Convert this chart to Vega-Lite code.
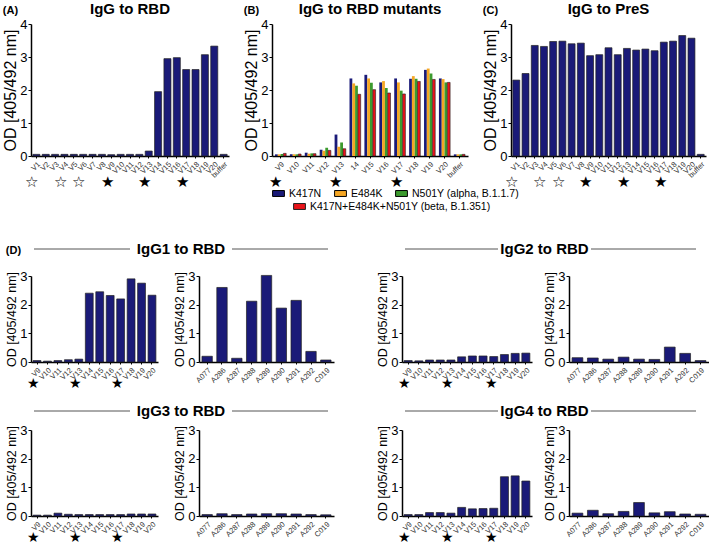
{
  "$schema": "https://vega.github.io/schema/vega-lite/v6.json",
  "padding": {"left": 2, "top": 2, "right": 2, "bottom": 0},
  "background": "white",
  "config": {
    "font": "Liberation Sans",
    "view": {"stroke": null},
    "axis": {"grid": false, "domainColor": "#000", "tickColor": "#000", "labelColor": "#000", "titleColor": "#000", "titleFontWeight": "normal", "labelFont": "Liberation Sans", "titleFont": "Liberation Sans"},
    "axisY": {"labelFontSize": 13, "titleFontSize": 12.5, "tickSize": 3, "domainWidth": 1.5, "titlePadding": 1, "labelPadding": 1},
    "axisX": {"labelAngle": -45, "labelFontSize": 7.5, "tickSize": 2, "labelColor": "#333", "domainWidth": 1.5, "labelPadding": 2},
    "title": {"fontSize": 15, "fontWeight": "bold", "color": "#000", "font": "Liberation Sans", "offset": 1},
    "legend": {"labelFontSize": 10.5, "labelColor": "#000", "labelLimit": 300, "symbolType": "M-1,-0.5H1V0.5H-1Z", "symbolSize": 140, "symbolStrokeColor": "#000", "symbolStrokeWidth": 1, "symbolOpacity": 1, "direction": "horizontal", "columnPadding": 10, "rowPadding": 6, "labelOffset": 4}
  },
  "datasets": {
    "A": [
      {"s": "V1", "v": 0.05, "star": "☆"}, {"s": "V2", "v": 0.05, "star": ""}, {"s": "V3", "v": 0.05, "star": ""},
      {"s": "V4", "v": 0.05, "star": "☆"}, {"s": "V5", "v": 0.05, "star": ""}, {"s": "V6", "v": 0.05, "star": "☆"},
      {"s": "V7", "v": 0.05, "star": ""}, {"s": "V8", "v": 0.05, "star": ""}, {"s": "V9", "v": 0.04, "star": "★"},
      {"s": "V10", "v": 0.05, "star": ""}, {"s": "V11", "v": 0.05, "star": ""}, {"s": "V12", "v": 0.05, "star": ""},
      {"s": "V13", "v": 0.15, "star": "★"}, {"s": "V14", "v": 1.95, "star": ""}, {"s": "V15", "v": 2.95, "star": ""},
      {"s": "V16", "v": 2.98, "star": ""}, {"s": "V17", "v": 2.62, "star": "★"}, {"s": "V18", "v": 2.62, "star": ""},
      {"s": "V19", "v": 3.07, "star": ""}, {"s": "V20", "v": 3.33, "star": ""}, {"s": "buffer", "v": 0.05, "star": ""}
    ],
    "C": [
      {"s": "V1", "v": 2.3, "star": "☆"}, {"s": "V2", "v": 2.5, "star": ""}, {"s": "V3", "v": 3.35, "star": ""},
      {"s": "V4", "v": 3.32, "star": "☆"}, {"s": "V5", "v": 3.47, "star": ""}, {"s": "V6", "v": 3.48, "star": "☆"},
      {"s": "V7", "v": 3.4, "star": ""}, {"s": "V8", "v": 3.42, "star": ""}, {"s": "V9", "v": 3.04, "star": "★"},
      {"s": "V10", "v": 3.07, "star": ""}, {"s": "V11", "v": 3.28, "star": ""}, {"s": "V12", "v": 3.07, "star": ""},
      {"s": "V13", "v": 3.26, "star": "★"}, {"s": "V14", "v": 3.21, "star": ""}, {"s": "V15", "v": 3.24, "star": ""},
      {"s": "V16", "v": 3.19, "star": ""}, {"s": "V17", "v": 3.45, "star": "★"}, {"s": "V18", "v": 3.48, "star": ""},
      {"s": "V19", "v": 3.65, "star": ""}, {"s": "V20", "v": 3.57, "star": ""}, {"s": "buffer", "v": 0.05, "star": ""}
    ],
    "B": [
      {"s": "V9", "m": "K417N", "v": 0.05}, {"s": "V9", "m": "E484K", "v": 0.05}, {"s": "V9", "m": "N501Y (alpha, B.1.1.7)", "v": 0.06}, {"s": "V9", "m": "K417N+E484K+N501Y (beta, B.1.351)", "v": 0.08},
      {"s": "V10", "m": "K417N", "v": 0.05}, {"s": "V10", "m": "E484K", "v": 0.05}, {"s": "V10", "m": "N501Y (alpha, B.1.1.7)", "v": 0.05}, {"s": "V10", "m": "K417N+E484K+N501Y (beta, B.1.351)", "v": 0.06},
      {"s": "V11", "m": "K417N", "v": 0.1}, {"s": "V11", "m": "E484K", "v": 0.07}, {"s": "V11", "m": "N501Y (alpha, B.1.1.7)", "v": 0.08}, {"s": "V11", "m": "K417N+E484K+N501Y (beta, B.1.351)", "v": 0.07},
      {"s": "V12", "m": "K417N", "v": 0.19}, {"s": "V12", "m": "E484K", "v": 0.16}, {"s": "V12", "m": "N501Y (alpha, B.1.1.7)", "v": 0.25}, {"s": "V12", "m": "K417N+E484K+N501Y (beta, B.1.351)", "v": 0.17},
      {"s": "V13", "m": "K417N", "v": 0.65}, {"s": "V13", "m": "E484K", "v": 0.28}, {"s": "V13", "m": "N501Y (alpha, B.1.1.7)", "v": 0.41}, {"s": "V13", "m": "K417N+E484K+N501Y (beta, B.1.351)", "v": 0.22},
      {"s": "14", "m": "K417N", "v": 2.35}, {"s": "14", "m": "E484K", "v": 2.2}, {"s": "14", "m": "N501Y (alpha, B.1.1.7)", "v": 2.13}, {"s": "14", "m": "K417N+E484K+N501Y (beta, B.1.351)", "v": 1.87},
      {"s": "V15", "m": "K417N", "v": 2.46}, {"s": "V15", "m": "E484K", "v": 2.35}, {"s": "V15", "m": "N501Y (alpha, B.1.1.7)", "v": 2.22}, {"s": "V15", "m": "K417N+E484K+N501Y (beta, B.1.351)", "v": 2.01},
      {"s": "V16", "m": "K417N", "v": 2.23}, {"s": "V16", "m": "E484K", "v": 2.27}, {"s": "V16", "m": "N501Y (alpha, B.1.1.7)", "v": 2.06}, {"s": "V16", "m": "K417N+E484K+N501Y (beta, B.1.351)", "v": 1.91},
      {"s": "V17", "m": "K417N", "v": 2.35}, {"s": "V17", "m": "E484K", "v": 2.23}, {"s": "V17", "m": "N501Y (alpha, B.1.1.7)", "v": 1.98}, {"s": "V17", "m": "K417N+E484K+N501Y (beta, B.1.351)", "v": 1.88},
      {"s": "V18", "m": "K417N", "v": 2.34}, {"s": "V18", "m": "E484K", "v": 2.42}, {"s": "V18", "m": "N501Y (alpha, B.1.1.7)", "v": 2.34}, {"s": "V18", "m": "K417N+E484K+N501Y (beta, B.1.351)", "v": 2.26},
      {"s": "V19", "m": "K417N", "v": 2.61}, {"s": "V19", "m": "E484K", "v": 2.65}, {"s": "V19", "m": "N501Y (alpha, B.1.1.7)", "v": 2.5}, {"s": "V19", "m": "K417N+E484K+N501Y (beta, B.1.351)", "v": 2.32},
      {"s": "V20", "m": "K417N", "v": 2.35}, {"s": "V20", "m": "E484K", "v": 2.33}, {"s": "V20", "m": "N501Y (alpha, B.1.1.7)", "v": 2.23}, {"s": "V20", "m": "K417N+E484K+N501Y (beta, B.1.351)", "v": 2.23},
      {"s": "buffer", "m": "K417N", "v": 0.05}, {"s": "buffer", "m": "E484K", "v": 0.05}, {"s": "buffer", "m": "N501Y (alpha, B.1.1.7)", "v": 0.05}, {"s": "buffer", "m": "K417N+E484K+N501Y (beta, B.1.351)", "v": 0.05}
    ],
    "Bstars": [
      {"s": "V9", "star": "★"}, {"s": "V10", "star": ""}, {"s": "V11", "star": ""}, {"s": "V12", "star": ""},
      {"s": "V13", "star": "★"}, {"s": "14", "star": ""}, {"s": "V15", "star": ""}, {"s": "V16", "star": ""},
      {"s": "V17", "star": "★"}, {"s": "V18", "star": ""}, {"s": "V19", "star": ""}, {"s": "V20", "star": ""}, {"s": "buffer", "star": ""}
    ],
    "g1L": [
      {"s": "V9", "v": 0.05, "star": "★"}, {"s": "V10", "v": 0.03, "star": ""}, {"s": "V11", "v": 0.05, "star": ""}, {"s": "V12", "v": 0.08, "star": ""},
      {"s": "V13", "v": 0.1, "star": "★"}, {"s": "V14", "v": 2.4, "star": ""}, {"s": "V15", "v": 2.45, "star": ""}, {"s": "V16", "v": 2.32, "star": ""},
      {"s": "V17", "v": 2.2, "star": "★"}, {"s": "V18", "v": 2.9, "star": ""}, {"s": "V19", "v": 2.75, "star": ""}, {"s": "V20", "v": 2.33, "star": ""}
    ],
    "g1R": [
      {"s": "A077", "v": 0.2}, {"s": "A286", "v": 2.6}, {"s": "A287", "v": 0.13}, {"s": "A288", "v": 2.12}, {"s": "A289", "v": 3.02},
      {"s": "A290", "v": 1.88}, {"s": "A291", "v": 2.15}, {"s": "A292", "v": 0.37}, {"s": "C019", "v": 0.07}
    ],
    "g2L": [
      {"s": "V9", "v": 0.05, "star": "★"}, {"s": "V10", "v": 0.04, "star": ""}, {"s": "V11", "v": 0.07, "star": ""}, {"s": "V12", "v": 0.07, "star": ""},
      {"s": "V13", "v": 0.07, "star": "★"}, {"s": "V14", "v": 0.18, "star": ""}, {"s": "V15", "v": 0.21, "star": ""}, {"s": "V16", "v": 0.21, "star": ""},
      {"s": "V17", "v": 0.19, "star": "★"}, {"s": "V18", "v": 0.26, "star": ""}, {"s": "V19", "v": 0.3, "star": ""}, {"s": "V20", "v": 0.31, "star": ""}
    ],
    "g2R": [
      {"s": "A077", "v": 0.15}, {"s": "A286", "v": 0.14}, {"s": "A287", "v": 0.1}, {"s": "A288", "v": 0.17}, {"s": "A289", "v": 0.1},
      {"s": "A290", "v": 0.09}, {"s": "A291", "v": 0.52}, {"s": "A292", "v": 0.3}, {"s": "C019", "v": 0.05}
    ],
    "g3L": [
      {"s": "V9", "v": 0.03, "star": "★"}, {"s": "V10", "v": 0.03, "star": ""}, {"s": "V11", "v": 0.1, "star": ""}, {"s": "V12", "v": 0.06, "star": ""},
      {"s": "V13", "v": 0.05, "star": "★"}, {"s": "V14", "v": 0.05, "star": ""}, {"s": "V15", "v": 0.05, "star": ""}, {"s": "V16", "v": 0.05, "star": ""},
      {"s": "V17", "v": 0.05, "star": "★"}, {"s": "V18", "v": 0.07, "star": ""}, {"s": "V19", "v": 0.07, "star": ""}, {"s": "V20", "v": 0.07, "star": ""}
    ],
    "g3R": [
      {"s": "A077", "v": 0.05}, {"s": "A286", "v": 0.08}, {"s": "A287", "v": 0.05}, {"s": "A288", "v": 0.07}, {"s": "A289", "v": 0.08},
      {"s": "A290", "v": 0.08}, {"s": "A291", "v": 0.07}, {"s": "A292", "v": 0.05}, {"s": "C019", "v": 0.04}
    ],
    "g4L": [
      {"s": "V9", "v": 0.05, "star": "★"}, {"s": "V10", "v": 0.05, "star": ""}, {"s": "V11", "v": 0.12, "star": ""}, {"s": "V12", "v": 0.12, "star": ""},
      {"s": "V13", "v": 0.1, "star": "★"}, {"s": "V14", "v": 0.3, "star": ""}, {"s": "V15", "v": 0.25, "star": ""}, {"s": "V16", "v": 0.26, "star": ""},
      {"s": "V17", "v": 0.27, "star": "★"}, {"s": "V18", "v": 1.37, "star": ""}, {"s": "V19", "v": 1.4, "star": ""}, {"s": "V20", "v": 1.22, "star": ""}
    ],
    "g4R": [
      {"s": "A077", "v": 0.1}, {"s": "A286", "v": 0.2}, {"s": "A287", "v": 0.08}, {"s": "A288", "v": 0.16}, {"s": "A289", "v": 0.47},
      {"s": "A290", "v": 0.11}, {"s": "A291", "v": 0.15}, {"s": "A292", "v": 0.07}, {"s": "C019", "v": 0.06}
    ],
    "hdrL": [{"a": 0.01, "b": 0.33}, {"a": 0.67, "b": 0.99}],
    "hdrR": [{"a": 0.01, "b": 0.32}, {"a": 0.63, "b": 0.98}]
  },
  "spacing": 52,
  "vconcat": [
    {
      "spacing": 14,
      "hconcat": [
        {
          "title": {"text": "(A)", "anchor": "start", "fontSize": 11, "offset": -14},
          "spacing": -8,
          "vconcat": [
            {"width": 198, "height": 132, "title": {"text": "IgG to RBD", "fontSize": 15},
             "data": {"name": "A"},
             "mark": {"type": "bar", "color": "#1a1a78", "stroke": "#222", "strokeWidth": 0.7},
             "encoding": {
               "x": {"field": "s", "type": "nominal", "sort": null, "title": null, "scale": {"paddingInner": 0.25, "paddingOuter": 0.2}},
               "y": {"field": "v", "type": "quantitative", "title": "OD [405/492 nm]", "scale": {"domain": [0, 4]}, "axis": {"values": [0, 1, 2, 3, 4], "titleFontSize": 16}}
             }},
            {"width": 198, "height": 6, "data": {"name": "A"},
             "mark": {"type": "text", "fontSize": 15, "dx": -4, "dy": 0, "color": "#000"},
             "encoding": {"x": {"field": "s", "type": "nominal", "sort": null, "axis": null, "scale": {"paddingInner": 0.25, "paddingOuter": 0.2}}, "text": {"field": "star"}}}
          ]
        },
        {
          "title": {"text": "(B)", "anchor": "start", "fontSize": 11, "offset": -14},
          "spacing": -8,
          "vconcat": [
            {"width": 196, "height": 132, "title": {"text": "IgG to RBD mutants", "fontSize": 15},
             "data": {"name": "B"},
             "mark": {"type": "bar", "strokeWidth": 0.6},
             "encoding": {
               "x": {"field": "s", "type": "nominal", "sort": null, "title": null, "scale": {"paddingInner": 0.25, "paddingOuter": 0.2}},
               "xOffset": {"field": "m", "type": "nominal", "sort": null},
               "y": {"field": "v", "type": "quantitative", "title": "OD [405/492 nm]", "scale": {"domain": [0, 4]}, "axis": {"values": [0, 1, 2, 3, 4], "titleFontSize": 16}},
               "color": {"field": "m", "type": "nominal", "title": null,
                 "scale": {"domain": ["K417N", "E484K", "N501Y (alpha, B.1.1.7)", "K417N+E484K+N501Y (beta, B.1.351)"], "range": ["#1a1a78", "#f5a623", "#3c9a2e", "#e8141a"]},
                 "legend": {"orient": "none", "legendX": 241, "legendY": 163, "values": ["K417N", "E484K", "N501Y (alpha, B.1.1.7)"], "columns": 3}},
               "stroke": {"field": "m", "type": "nominal", "title": null,
                 "scale": {"domain": ["K417N+E484K+N501Y (beta, B.1.351)"], "range": ["#222"]},
                 "legend": {"orient": "none", "legendX": 262, "legendY": 176, "symbolFillColor": "#e8141a", "symbolStrokeColor": "#000"}}
             }},
            {"width": 196, "height": 6, "data": {"name": "Bstars"},
             "mark": {"type": "text", "fontSize": 15, "dx": -4, "dy": 0, "color": "#000"},
             "encoding": {"x": {"field": "s", "type": "nominal", "sort": null, "axis": null, "scale": {"paddingInner": 0.25, "paddingOuter": 0.2}}, "text": {"field": "star"}}}
          ]
        },
        {
          "title": {"text": "(C)", "anchor": "start", "fontSize": 11, "offset": -14},
          "spacing": -8,
          "vconcat": [
            {"width": 195, "height": 132, "title": {"text": "IgG to PreS", "fontSize": 15},
             "data": {"name": "C"},
             "mark": {"type": "bar", "color": "#1a1a78", "stroke": "#222", "strokeWidth": 0.7},
             "encoding": {
               "x": {"field": "s", "type": "nominal", "sort": null, "title": null, "scale": {"paddingInner": 0.25, "paddingOuter": 0.2}},
               "y": {"field": "v", "type": "quantitative", "title": "OD [405/492 nm]", "scale": {"domain": [0, 4]}, "axis": {"values": [0, 1, 2, 3, 4], "titleFontSize": 16}}
             }},
            {"width": 195, "height": 6, "data": {"name": "C"},
             "mark": {"type": "text", "fontSize": 15, "dx": -4, "dy": 0, "color": "#000"},
             "encoding": {"x": {"field": "s", "type": "nominal", "sort": null, "axis": null, "scale": {"paddingInner": 0.25, "paddingOuter": 0.2}}, "text": {"field": "star"}}}
          ]
        }
      ]
    },
    {
      "title": {"text": "(D)", "anchor": "start", "fontSize": 11, "offset": -14},
      "spacing": 13,
      "vconcat": [
        {
          "spacing": 42,
          "hconcat": [
            {"spacing": 13, "vconcat": [
              {"width": 300, "height": 12, "layer": [
                {"data": {"name": "hdrL"}, "mark": {"type": "rule", "color": "#555", "strokeWidth": 1},
                 "encoding": {"x": {"field": "a", "type": "quantitative", "scale": {"domain": [0, 1]}, "axis": null}, "x2": {"field": "b"}, "y": {"datum": 0.5, "type": "quantitative", "scale": {"domain": [0, 1]}, "axis": null}}},
                {"data": {"values": [{"t": "IgG1 to RBD"}]}, "mark": {"type": "text", "fontSize": 15, "fontWeight": "bold"},
                 "encoding": {"x": {"datum": 0.5, "type": "quantitative"}, "y": {"datum": 0.5, "type": "quantitative"}, "text": {"field": "t"}}}
              ]},
              {"spacing": 15, "hconcat": [
                {"spacing": -4, "vconcat": [
                  {"width": 127, "height": 86, "data": {"name": "g1L"},
                   "mark": {"type": "bar", "color": "#1a1a78", "stroke": "#222", "strokeWidth": 0.7},
                   "encoding": {"x": {"field": "s", "type": "nominal", "sort": null, "title": null, "scale": {"paddingInner": 0.25, "paddingOuter": 0.2}},
                     "y": {"field": "v", "type": "quantitative", "title": "OD [405/492 nm]", "scale": {"domain": [0, 3]}, "axis": {"values": [0, 1, 2, 3]}}}},
                  {"width": 127, "height": 6, "data": {"name": "g1L"}, "mark": {"type": "text", "fontSize": 14, "dx": -3, "dy": -1, "color": "#000"},
                   "encoding": {"x": {"field": "s", "type": "nominal", "sort": null, "axis": null, "scale": {"paddingInner": 0.25, "paddingOuter": 0.2}}, "text": {"field": "star"}}}
                ]},
                {"width": 135, "height": 86, "data": {"name": "g1R"},
                 "mark": {"type": "bar", "color": "#1a1a78", "stroke": "#222", "strokeWidth": 0.7},
                 "encoding": {"x": {"field": "s", "type": "nominal", "sort": null, "title": null, "scale": {"paddingInner": 0.3, "paddingOuter": 0.2}},
                   "y": {"field": "v", "type": "quantitative", "title": "OD [405/492 nm]", "scale": {"domain": [0, 3]}, "axis": {"values": [0, 1, 2, 3]}}}}
              ]}
            ]},
            {"spacing": 13, "vconcat": [
              {"width": 300, "height": 12, "layer": [
                {"data": {"name": "hdrR"}, "mark": {"type": "rule", "color": "#555", "strokeWidth": 1},
                 "encoding": {"x": {"field": "a", "type": "quantitative", "scale": {"domain": [0, 1]}, "axis": null}, "x2": {"field": "b"}, "y": {"datum": 0.5, "type": "quantitative", "scale": {"domain": [0, 1]}, "axis": null}}},
                {"data": {"values": [{"t": "IgG2 to RBD"}]}, "mark": {"type": "text", "fontSize": 15, "fontWeight": "bold"},
                 "encoding": {"x": {"datum": 0.475, "type": "quantitative"}, "y": {"datum": 0.5, "type": "quantitative"}, "text": {"field": "t"}}}
              ]},
              {"spacing": 11, "hconcat": [
                {"spacing": -4, "vconcat": [
                  {"width": 130, "height": 86, "data": {"name": "g2L"},
                   "mark": {"type": "bar", "color": "#1a1a78", "stroke": "#222", "strokeWidth": 0.7},
                   "encoding": {"x": {"field": "s", "type": "nominal", "sort": null, "title": null, "scale": {"paddingInner": 0.25, "paddingOuter": 0.2}},
                     "y": {"field": "v", "type": "quantitative", "title": "OD [405/492 nm]", "scale": {"domain": [0, 3]}, "axis": {"values": [0, 1, 2, 3]}}}},
                  {"width": 130, "height": 6, "data": {"name": "g2L"}, "mark": {"type": "text", "fontSize": 14, "dx": -3, "dy": -1, "color": "#000"},
                   "encoding": {"x": {"field": "s", "type": "nominal", "sort": null, "axis": null, "scale": {"paddingInner": 0.25, "paddingOuter": 0.2}}, "text": {"field": "star"}}}
                ]},
                {"width": 140, "height": 86, "data": {"name": "g2R"},
                 "mark": {"type": "bar", "color": "#1a1a78", "stroke": "#222", "strokeWidth": 0.7},
                 "encoding": {"x": {"field": "s", "type": "nominal", "sort": null, "title": null, "scale": {"paddingInner": 0.3, "paddingOuter": 0.2}},
                   "y": {"field": "v", "type": "quantitative", "title": "OD [405/492 nm]", "scale": {"domain": [0, 3]}, "axis": {"values": [0, 1, 2, 3]}}}}
              ]}
            ]}
          ]
        },
        {
          "spacing": 42,
          "hconcat": [
            {"spacing": 5, "vconcat": [
              {"width": 300, "height": 12, "layer": [
                {"data": {"name": "hdrL"}, "mark": {"type": "rule", "color": "#555", "strokeWidth": 1},
                 "encoding": {"x": {"field": "a", "type": "quantitative", "scale": {"domain": [0, 1]}, "axis": null}, "x2": {"field": "b"}, "y": {"datum": 0.5, "type": "quantitative", "scale": {"domain": [0, 1]}, "axis": null}}},
                {"data": {"values": [{"t": "IgG3 to RBD"}]}, "mark": {"type": "text", "fontSize": 15, "fontWeight": "bold"},
                 "encoding": {"x": {"datum": 0.5, "type": "quantitative"}, "y": {"datum": 0.5, "type": "quantitative"}, "text": {"field": "t"}}}
              ]},
              {"spacing": 15, "hconcat": [
                {"spacing": -4, "vconcat": [
                  {"width": 127, "height": 86, "data": {"name": "g3L"},
                   "mark": {"type": "bar", "color": "#1a1a78", "stroke": "#222", "strokeWidth": 0.7},
                   "encoding": {"x": {"field": "s", "type": "nominal", "sort": null, "title": null, "scale": {"paddingInner": 0.25, "paddingOuter": 0.2}},
                     "y": {"field": "v", "type": "quantitative", "title": "OD [405/492 nm]", "scale": {"domain": [0, 3]}, "axis": {"values": [0, 1, 2, 3]}}}},
                  {"width": 127, "height": 6, "data": {"name": "g3L"}, "mark": {"type": "text", "fontSize": 14, "dx": -3, "dy": -1, "color": "#000"},
                   "encoding": {"x": {"field": "s", "type": "nominal", "sort": null, "axis": null, "scale": {"paddingInner": 0.25, "paddingOuter": 0.2}}, "text": {"field": "star"}}}
                ]},
                {"width": 135, "height": 86, "data": {"name": "g3R"},
                 "mark": {"type": "bar", "color": "#1a1a78", "stroke": "#222", "strokeWidth": 0.7},
                 "encoding": {"x": {"field": "s", "type": "nominal", "sort": null, "title": null, "scale": {"paddingInner": 0.3, "paddingOuter": 0.2}},
                   "y": {"field": "v", "type": "quantitative", "title": "OD [405/492 nm]", "scale": {"domain": [0, 3]}, "axis": {"values": [0, 1, 2, 3]}}}}
              ]}
            ]},
            {"spacing": 5, "vconcat": [
              {"width": 300, "height": 12, "layer": [
                {"data": {"name": "hdrR"}, "mark": {"type": "rule", "color": "#555", "strokeWidth": 1},
                 "encoding": {"x": {"field": "a", "type": "quantitative", "scale": {"domain": [0, 1]}, "axis": null}, "x2": {"field": "b"}, "y": {"datum": 0.5, "type": "quantitative", "scale": {"domain": [0, 1]}, "axis": null}}},
                {"data": {"values": [{"t": "IgG4 to RBD"}]}, "mark": {"type": "text", "fontSize": 15, "fontWeight": "bold"},
                 "encoding": {"x": {"datum": 0.475, "type": "quantitative"}, "y": {"datum": 0.5, "type": "quantitative"}, "text": {"field": "t"}}}
              ]},
              {"spacing": 11, "hconcat": [
                {"spacing": -4, "vconcat": [
                  {"width": 130, "height": 86, "data": {"name": "g4L"},
                   "mark": {"type": "bar", "color": "#1a1a78", "stroke": "#222", "strokeWidth": 0.7},
                   "encoding": {"x": {"field": "s", "type": "nominal", "sort": null, "title": null, "scale": {"paddingInner": 0.25, "paddingOuter": 0.2}},
                     "y": {"field": "v", "type": "quantitative", "title": "OD [405/492 nm]", "scale": {"domain": [0, 3]}, "axis": {"values": [0, 1, 2, 3]}}}},
                  {"width": 130, "height": 6, "data": {"name": "g4L"}, "mark": {"type": "text", "fontSize": 14, "dx": -3, "dy": -1, "color": "#000"},
                   "encoding": {"x": {"field": "s", "type": "nominal", "sort": null, "axis": null, "scale": {"paddingInner": 0.25, "paddingOuter": 0.2}}, "text": {"field": "star"}}}
                ]},
                {"width": 140, "height": 86, "data": {"name": "g4R"},
                 "mark": {"type": "bar", "color": "#1a1a78", "stroke": "#222", "strokeWidth": 0.7},
                 "encoding": {"x": {"field": "s", "type": "nominal", "sort": null, "title": null, "scale": {"paddingInner": 0.3, "paddingOuter": 0.2}},
                   "y": {"field": "v", "type": "quantitative", "title": "OD [405/492 nm]", "scale": {"domain": [0, 3]}, "axis": {"values": [0, 1, 2, 3]}}}}
              ]}
            ]}
          ]
        }
      ]
    }
  ]
}
